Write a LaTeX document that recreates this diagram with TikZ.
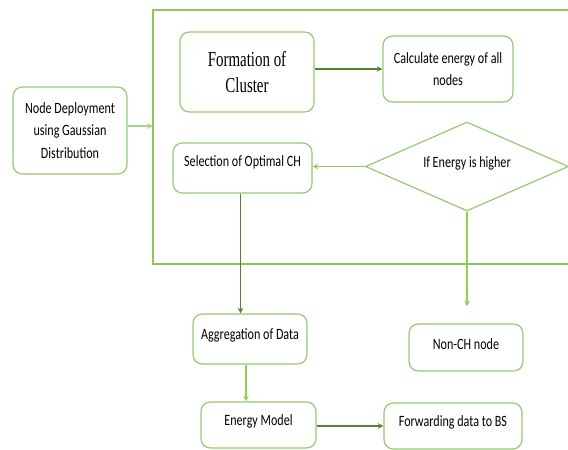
\documentclass[tikz,border=0pt]{standalone}
\usepackage{fontspec}
\setmainfont{Carlito}[FakeStretch=0.77]
\newfontfamily\titlefont{Liberation Serif}[FakeStretch=0.7]
\usetikzlibrary{calc,shapes.geometric}
\definecolor{boxgreen}{HTML}{94CB6E}
\definecolor{framegreen}{HTML}{8CC65E}
\definecolor{darkgreen}{HTML}{548235}
\definecolor{limegreen}{HTML}{92D050}
\definecolor{palegreen}{HTML}{A9D18E}
\tikzset{
  stepbox/.style={draw=boxgreen,line width=0.9pt,rounded corners=7pt,align=center,inner sep=2pt},
  decision/.style={diamond,aspect=2.28,draw=boxgreen,line width=0.9pt,inner sep=0pt,align=center},
  darkarrow/.style={->,darkgreen,line width=0.9pt},
  lightarrow/.style={->,limegreen,line width=0.9pt},
  palearrow/.style={->,palegreen,line width=0.9pt}
}

\begin{document}
\begin{tikzpicture}[x=0.75pt,y=-0.75pt,>=stealth,font=\fontsize{11.8}{17}\selectfont]
                \useasboundingbox (0,0) rectangle (568,450);
                \draw[framegreen,line width=1.1pt] (570,10)--(153,10)--(153,264)--(570,264);
                \coordinate (frameIn) at (153,126);
                \node[stepbox,minimum width=85.5pt,minimum height=65.25pt] (deploy) at (70,130.5) {Node Deployment\\using Gaussian\\Distribution};
                \node[stepbox,minimum width=100.5pt,minimum height=60pt,font=\titlefont\fontsize{16}{19.5}\selectfont] (form) at (247,72) {Formation of\\Cluster};
                \node[stepbox,minimum width=97.5pt,minimum height=49.5pt] (calc) at (448,69) {Calculate energy of all\\nodes};
                \node[decision,minimum width=152.25pt,minimum height=66.75pt,text depth=7pt] (cond) at (467,166.5) {If Energy is higher};
                \node[stepbox,minimum width=104.25pt,minimum height=37.5pt,text depth=10pt] (select) at (242.5,168) {Selection of Optimal CH};
                \node[stepbox,minimum width=85.5pt,minimum height=37.5pt,text depth=7pt] (aggr) at (250,339) {Aggregation of Data};
                \node[stepbox,minimum width=85.5pt,minimum height=35.25pt,text depth=5pt] (nonch) at (466,347.5) {Non-CH node};
                \node[stepbox,minimum width=86.25pt,minimum height=34.5pt,text depth=7pt] (energy) at (258.5,425) {Energy Model};
                \node[stepbox,minimum width=103.5pt,minimum height=34.5pt,text depth=7pt] (forward) at (453,426) {Forwarding data to BS};
                \draw[palearrow] (deploy.east |- frameIn)--(frameIn);
                \draw[darkarrow] (form.east |- calc.west)--(calc.west);
                \draw[lightarrow] (cond.west)--(cond.west -| select.east);
                \draw[darkarrow] ([xshift=-1.5pt]select.south)--([xshift=-1.5pt]select.south |- aggr.north);
                \draw[lightarrow] (cond.south)--($(cond.south |- nonch.north)+(0,-17)$);
                \draw[lightarrow] ([xshift=-3pt]aggr.south)--([xshift=-3pt]aggr.south |- energy.north);
                \draw[darkarrow] (energy.east |- forward.west)--(forward.west);
            \end{tikzpicture}
\end{document}
